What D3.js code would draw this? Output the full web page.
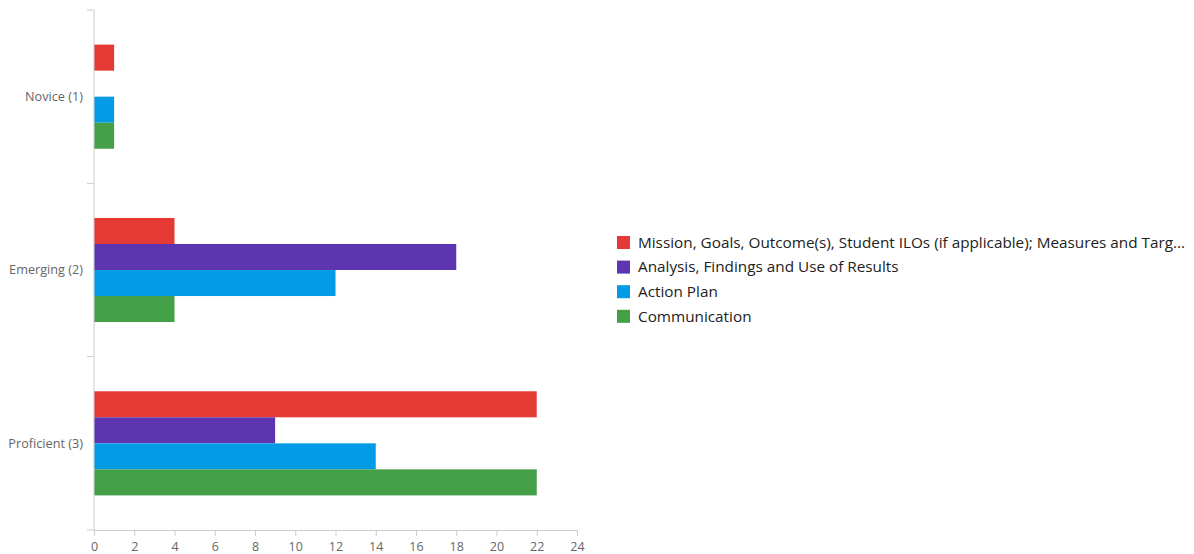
<!DOCTYPE html>
<html><head><meta charset="utf-8">
<script src="https://cdn.jsdelivr.net/npm/d3@7"></script>
<style>body{margin:0;background:#fff;} text{font-family:"Open Sans", Roboto, sans-serif;}</style>
</head><body>
<svg id="c" width="1194" height="554"></svg>
<script>
const categories = ["Novice (1)", "Emerging (2)", "Proficient (3)"];
const seriesNames = ["Mission, Goals, Outcome(s), Student ILOs (if applicable); Measures and Targ...", "Analysis, Findings and Use of Results", "Action Plan", "Communication"];
const seriesColors = ["#e53935", "#5e35b1", "#039be5", "#43a047"];
const mission = [1, 4, 22];
const analysis = [0, 18, 9];
const actionPlan = [1, 12, 14];
const communication = [1, 4, 22];
const xTicks = [0, 2, 4, 6, 8, 10, 12, 14, 16, 18, 20, 22, 24];
const seriesValues = [mission, analysis, actionPlan, communication];

const svg = d3.select("#c");
const mLeft = 94, mRight = 577, mTop = 10, mBottom = 530;
const x = d3.scaleLinear().domain([0, 24]).range([mLeft, mRight]);
const y = d3.scaleBand().domain(categories).range([mTop, mBottom]);
const inner = d3.scaleBand().domain(d3.range(seriesNames.length)).range([0, y.bandwidth()]).paddingOuter(1.33);

categories.forEach((c, ci) => {
  seriesValues.forEach((vals, si) => {
    svg.append("rect")
      .attr("x", x(0)).attr("y", y(c) + inner(si))
      .attr("width", x(vals[ci]) - x(0)).attr("height", inner.bandwidth())
      .attr("fill", seriesColors[si]);
  });
});

// x axis
const xa = svg.append("g").attr("transform", `translate(0,${mBottom})`)
  .call(d3.axisBottom(x).tickValues(xTicks).tickSize(6).tickSizeOuter(0));
xa.select(".domain").attr("stroke", "#ccc");
xa.selectAll(".tick line").attr("stroke", "#ccc");
xa.selectAll("text").attr("fill", "#666").attr("font-size", 12.5).attr("dy", "0.95em").style("font-family", "\"Open Sans\", sans-serif");

// y axis
svg.append("line").attr("x1", mLeft).attr("x2", mLeft).attr("y1", mTop).attr("y2", mBottom).attr("stroke", "#ccc");
const bounds = [mTop].concat(categories.map(c => y(c) + y.bandwidth()));
svg.selectAll(".yt").data(bounds).enter().append("line")
  .attr("x1", mLeft - 7).attr("x2", mLeft).attr("y1", d => d).attr("y2", d => d).attr("stroke", "#ccc");
svg.selectAll(".yl").data(categories).enter().append("text")
  .attr("x", 83).attr("y", d => y(d) + y.bandwidth() / 2).attr("dy", "0.35em")
  .attr("text-anchor", "end").attr("fill", "#666").attr("font-size", 12.7).text(d => d);

// legend
const lg = svg.append("g").attr("transform", "translate(617,236)");
seriesNames.forEach((n, i) => {
  lg.append("rect").attr("x", 0).attr("y", i * 24.6).attr("width", 13).attr("height", 13).attr("fill", seriesColors[i]);
  lg.append("text").attr("x", 21).attr("y", i * 24.6 + 6.5).attr("dy", "0.35em")
    .attr("fill", "#222").attr("font-size", 15.3).text(n);
});
</script>
</body></html>
